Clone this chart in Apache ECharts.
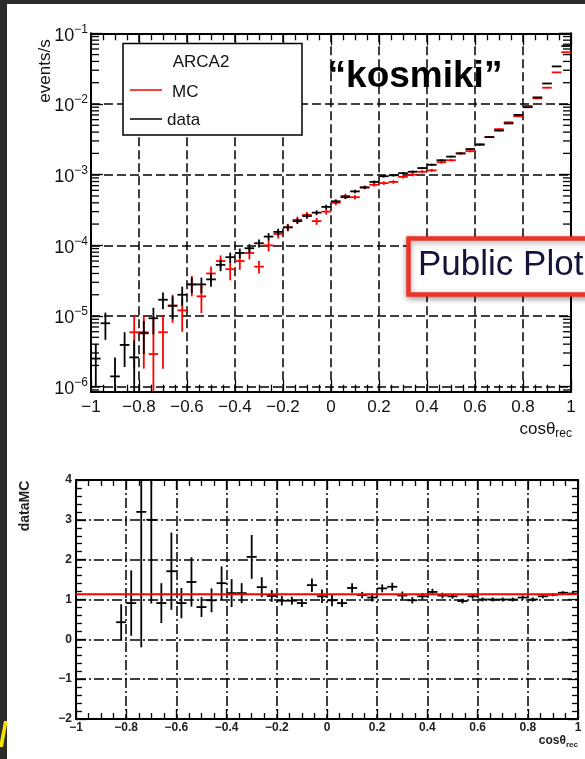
<!DOCTYPE html>
<html><head><meta charset="utf-8">
<script src="https://cdn.jsdelivr.net/npm/echarts@6/dist/echarts.min.js"></script>
<style>html,body{margin:0;padding:0;background:#fff}#c{width:585px;height:759px}</style>
</head><body><div id="c"></div>
<script>
// ---------------- data ----------------
const binCenters = [-0.98,-0.94,-0.90,-0.86,-0.82,-0.78,-0.74,-0.70,-0.66,-0.62,
  -0.58,-0.54,-0.50,-0.46,-0.42,-0.38,-0.34,-0.30,-0.26,-0.22,
  -0.18,-0.14,-0.10,-0.06,-0.02,0.02,0.06,0.10,0.14,0.18,
  0.22,0.26,0.30,0.34,0.38,0.42,0.46,0.50,0.54,0.58,
  0.62,0.66,0.70,0.74,0.78,0.82,0.86,0.90,0.94,0.98];
const binHalfWidth = 0.02;

const dataVal = [2.5e-6,7.9e-6,1.4e-6,3.9e-6,2.6e-6,5.7e-6,9.3e-6,1.7e-5,1.4e-5,2.0e-5,
  2.8e-5,2.8e-5,3.3e-5,5.3e-5,6.8e-5,7.8e-5,9.1e-5,1.07e-4,1.33e-4,1.55e-4,
  1.8e-4,2.2e-4,2.6e-4,2.9e-4,3.5e-4,4.2e-4,4.8e-4,5.8e-4,6.6e-4,7.9e-4,
  9.5e-4,9.8e-4,1.05e-3,1.1e-3,1.24e-3,1.38e-3,1.6e-3,1.8e-3,2.0e-3,2.3e-3,
  2.65e-3,3.4e-3,4.2e-3,5.3e-3,7.0e-3,9.0e-3,1.24e-2,1.95e-2,3.4e-2,6.6e-2];
const dataErr = [1.5e-6,3.3e-6,1.2e-6,2.0e-6,1.9e-6,2.8e-6,3.8e-6,4.5e-6,5e-6,6e-6,
  7e-6,7e-6,7e-6,1.0e-5,1.1e-5,1.2e-5,1.3e-5,1.4e-5,1.6e-5,1.7e-5,
  1.8e-5,2.0e-5,2.2e-5,2.3e-5,2.5e-5,2.7e-5,2.9e-5,3.2e-5,3.4e-5,3.7e-5,
  4.0e-5,4.0e-5,4.1e-5,4.2e-5,4.5e-5,4.7e-5,5.0e-5,5.3e-5,5.6e-5,6.0e-5,
  6.5e-5,7.3e-5,8.2e-5,9.2e-5,1.05e-4,1.2e-4,1.4e-4,1.7e-4,2.3e-4,3.2e-4];

const mcVal = [null,null,null,null,5.9e-6,5.9e-6,2.9e-6,5.9e-6,1.4e-5,1.2e-5,
  2.8e-5,1.9e-5,4.0e-5,6.0e-5,4.6e-5,6.0e-5,7.8e-5,5.0e-5,1.0e-4,1.45e-4,
  1.8e-4,2.3e-4,2.7e-4,2.2e-4,3.0e-4,4.0e-4,5.0e-4,4.8e-4,6.6e-4,7.2e-4,
  7.6e-4,7.9e-4,9.3e-4,1.0e-3,1.1e-3,1.15e-3,1.5e-3,1.6e-3,2.0e-3,2.15e-3,
  2.7e-3,3.4e-3,4.4e-3,5.5e-3,6.7e-3,9.4e-3,1.2e-2,1.7e-2,2.8e-2,5.4e-2];
const mcErr = [null,null,null,null,4.1e-6,4.1e-6,7e-6,4.1e-6,6e-6,6e-6,
  9e-6,8e-6,1.0e-5,1.2e-5,1.4e-5,1.5e-5,1.5e-5,1.0e-5,1.8e-5,2.0e-5,
  2.2e-5,2.5e-5,2.7e-5,2.5e-5,2.8e-5,3.2e-5,3.6e-5,3.5e-5,4.0e-5,4.2e-5,
  4.4e-5,4.5e-5,5.0e-5,5.2e-5,5.5e-5,5.6e-5,6.5e-5,6.8e-5,7.5e-5,8e-5,
  9e-5,1.0e-4,1.2e-4,1.3e-4,1.5e-4,1.8e-4,2.1e-4,2.6e-4,3.4e-4,5e-4];

const ratioVal = [null,null,null,null,0.43,0.91,3.2,3.0,0.91,1.71,
  0.91,1.44,0.81,0.98,1.41,1.16,1.16,2.07,1.31,1.09,
  0.97,0.97,0.91,1.36,1.08,0.98,0.91,1.29,1.11,1.05,
  1.28,1.32,1.10,0.98,1.08,1.19,1.10,1.08,0.96,1.08,
  1.00,1.00,1.00,1.00,1.05,1.00,1.08,1.12,1.17,1.15];
const ratioErr = [null,null,null,null,0.45,0.82,3.4,2.1,0.5,0.97,
  0.38,0.62,0.25,0.3,0.42,0.35,0.25,0.55,0.25,0.15,
  0.12,0.1,0.1,0.17,0.17,0.15,0.1,0.12,0.08,0.1,
  0.1,0.1,0.1,0.08,0.08,0.08,0.07,0.06,0.06,0.06,
  0.05,0.05,0.05,0.05,0.05,0.05,0.05,0.04,0.04,0.04];
const fitRatio = 1.13;

// tick labels
const xTickValues = [-1,-0.8,-0.6,-0.4,-0.2,0,0.2,0.4,0.6,0.8,1];
const xTickLabels = ['\u22121','\u22120.8','\u22120.6','\u22120.4','\u22120.2','0','0.2','0.4','0.6','0.8','1'];
const yLogTickValues = [1e-6,1e-5,1e-4,1e-3,1e-2,1e-1];
const yLogTickExps = ['\u22126','\u22125','\u22124','\u22123','\u22122','\u22121'];
const ratioTickValues = [-2,-1,0,1,2,3,4];
const ratioTickLabels = ['\u22122','\u22121','0','1','2','3','4'];

const yLogMin = 8.5e-7, yLogMax = 0.1;
// --------------------------------------

const FONT = '"Liberation Sans", Arial, Helvetica, sans-serif';
const TXT = '#111';

function lookup(vals, labels, v, isLog) {
  for (let i = 0; i < vals.length; i++) {
    const d = isLog ? Math.abs(Math.log10(v) - Math.log10(vals[i])) : Math.abs(v - vals[i]);
    if (d < 1e-6) return labels[i];
  }
  return '';
}

function pts(vals, errs) {
  const out = [];
  binCenters.forEach((x, i) => { if (vals[i] != null) out.push([x, vals[i], errs[i]]); });
  return out;
}

function crossRenderer(color, lw, isLog) {
  return function (params, api) {
    const cs = params.coordSys;
    const x = api.value(0), y = api.value(1), e = api.value(2);
    let bot = y - e;
    if (isLog && bot <= 0) bot = 1e-12;
    const clampY = v => Math.max(cs.y, Math.min(cs.y + cs.height, v));
    const pL = api.coord([x - binHalfWidth, y]);
    const pR = api.coord([x + binHalfWidth, y]);
    const pT = api.coord([x, y + e]);
    const pB = api.coord([x, bot]);
    const style = { stroke: color, lineWidth: lw };
    const ch = [];
    if (pL[1] >= cs.y && pL[1] <= cs.y + cs.height)
      ch.push({ type: 'line', shape: { x1: pL[0], y1: pL[1], x2: pR[0], y2: pR[1] }, style });
    const y1 = clampY(pT[1]), y2 = clampY(pB[1]);
    if (y2 > y1) ch.push({ type: 'line', shape: { x1: pT[0], y1: y1, x2: pT[0], y2: y2 }, style });
    return { type: 'group', children: ch };
  };
}

// minor log ticks (2..9 per decade)
const logMinorTicks = [];
for (let d = -7; d <= -2; d++) for (let m = 2; m <= 9; m++) {
  const v = m * Math.pow(10, d);
  if (v > yLogMin && v < yLogMax) logMinorTicks.push([0, v]);
}

const chart = echarts.init(document.getElementById('c'), null, { renderer: 'canvas' });

const frameLine = { show: true, onZero: false, lineStyle: { color: '#000', width: 2 } };
const dashGrid = { show: true, lineStyle: { color: '#000', width: 1.5, type: [9, 4] } };
const dashDotGrid = { show: true, lineStyle: { color: '#000', width: 1.5, type: [10, 3, 2, 3] } };

const option = {
  animation: false,
  backgroundColor: '#fff',
  grid: [
    { left: 91, top: 33.3, width: 480, height: 358.4, containLabel: false },
    { left: 76, top: 480, width: 502, height: 239, containLabel: false }
  ],
  xAxis: [
    { type: 'value', gridIndex: 0, min: -1, max: 1, interval: 0.2, position: 'bottom',
      axisLine: frameLine,
      axisTick: { show: true, inside: true, length: 12, lineStyle: { color: '#000', width: 1.3 } },
      minorTick: { show: true, splitNumber: 4, length: 7, lineStyle: { color: '#000', width: 1.3 } },
      splitLine: dashGrid,
      axisLabel: { fontSize: 17, color: TXT, fontFamily: FONT, margin: 7,
        formatter: v => lookup(xTickValues, xTickLabels, v, false) } },
    { type: 'value', gridIndex: 0, min: -1, max: 1, interval: 0.2, position: 'top',
      axisLine: frameLine,
      axisTick: { show: true, inside: true, length: 12, lineStyle: { color: '#000', width: 1.3 } },
      minorTick: { show: true, splitNumber: 4, length: 7, lineStyle: { color: '#000', width: 1.3 } },
      splitLine: { show: false }, axisLabel: { show: false } },
    { type: 'value', gridIndex: 1, min: -1, max: 1, interval: 0.2, position: 'bottom',
      axisLine: frameLine,
      axisTick: { show: true, inside: true, length: 10, lineStyle: { color: '#000', width: 1.3 } },
      minorTick: { show: true, splitNumber: 4, length: 6, lineStyle: { color: '#000', width: 1.3 } },
      splitLine: dashDotGrid,
      axisLabel: { fontSize: 12, fontWeight: 'bold', color: '#222', fontFamily: FONT, margin: 3,
        formatter: v => lookup(xTickValues, xTickLabels, v, false) } },
    { type: 'value', gridIndex: 1, min: -1, max: 1, interval: 0.2, position: 'top',
      axisLine: frameLine,
      axisTick: { show: true, inside: true, length: 10, lineStyle: { color: '#000', width: 1.3 } },
      minorTick: { show: true, splitNumber: 4, length: 6, lineStyle: { color: '#000', width: 1.3 } },
      splitLine: { show: false }, axisLabel: { show: false } }
  ],
  yAxis: [
    { type: 'log', logBase: 10, gridIndex: 0, min: yLogMin, max: yLogMax, position: 'left',
      axisLine: frameLine,
      axisTick: { show: true, inside: true, length: 12, lineStyle: { color: '#000', width: 1.3 } },
      minorTick: { show: false },
      splitLine: dashGrid,
      axisLabel: { margin: 3, color: TXT, fontFamily: FONT,
        formatter: v => { const e = lookup(yLogTickValues, yLogTickExps, v, true); return e ? '{b|10}{s|' + e + '}' : ''; },
        rich: {
          b: { fontSize: 18, color: TXT, fontFamily: FONT, padding: [5, 0, 0, 0] },
          s: { fontSize: 12, color: TXT, fontFamily: FONT, padding: [0, 0, 8, 0] }
        } } },
    { type: 'log', logBase: 10, gridIndex: 0, min: yLogMin, max: yLogMax, position: 'right',
      axisLine: frameLine,
      axisTick: { show: true, inside: true, length: 12, lineStyle: { color: '#000', width: 1.3 } },
      splitLine: { show: false }, axisLabel: { show: false } },
    { type: 'value', gridIndex: 1, min: -2, max: 4, interval: 1, position: 'left',
      axisLine: frameLine,
      axisTick: { show: true, inside: true, length: 10, lineStyle: { color: '#000', width: 1.3 } },
      minorTick: { show: true, splitNumber: 5, length: 6, lineStyle: { color: '#000', width: 1.3 } },
      splitLine: dashDotGrid,
      axisLabel: { fontSize: 12, fontWeight: 'bold', color: '#222', fontFamily: FONT, margin: 4,
        formatter: v => lookup(ratioTickValues, ratioTickLabels, v, false) } },
    { type: 'value', gridIndex: 1, min: -2, max: 4, interval: 1, position: 'right',
      axisLine: frameLine,
      axisTick: { show: true, inside: true, length: 10, lineStyle: { color: '#000', width: 1.3 } },
      minorTick: { show: true, splitNumber: 5, length: 6, lineStyle: { color: '#000', width: 1.3 } },
      splitLine: { show: false }, axisLabel: { show: false } }
  ],
  series: [
    { type: 'custom', name: 'logMinorTicks', xAxisIndex: 0, yAxisIndex: 0, silent: true, z: 3,
      data: logMinorTicks,
      renderItem: function (params, api) {
        const cs = params.coordSys;
        const y = api.coord([0, api.value(1)])[1];
        const st = { stroke: '#000', lineWidth: 1.3 };
        return { type: 'group', children: [
          { type: 'line', shape: { x1: cs.x, y1: y, x2: cs.x + 8, y2: y }, style: st },
          { type: 'line', shape: { x1: cs.x + cs.width - 8, y1: y, x2: cs.x + cs.width, y2: y }, style: st }
        ] };
      } },
    { type: 'custom', name: 'MC', xAxisIndex: 0, yAxisIndex: 0, z: 4,
      data: pts(mcVal, mcErr), renderItem: crossRenderer('#ff0000', 1.8, true) },
    { type: 'custom', name: 'data', xAxisIndex: 0, yAxisIndex: 0, z: 5,
      data: pts(dataVal, dataErr), renderItem: crossRenderer('#000000', 1.8, true) },
    { type: 'custom', name: 'data/MC', xAxisIndex: 2, yAxisIndex: 2, z: 4,
      data: pts(ratioVal, ratioErr), renderItem: crossRenderer('#000000', 1.8, false) },
    { type: 'line', name: 'fit', xAxisIndex: 2, yAxisIndex: 2, z: 6, symbol: 'none', silent: true,
      data: [[-1, fitRatio], [1, fitRatio]], lineStyle: { color: '#ff0000', width: 2 } }
  ],
  graphic: [
    // screen frame
    { type: 'rect', z: 200, shape: { x: 0, y: 0, width: 585, height: 4 }, style: { fill: '#2b2b2b' } },
    { type: 'rect', z: 200, shape: { x: 0, y: 0, width: 7, height: 759 }, style: { fill: '#2b2b2b' } },
    { type: 'polygon', z: 201, shape: { points: [[4, 721], [7.5, 721], [3, 747], [0, 747], [0, 742]] }, style: { fill: '#f5e400' } },
    // legend
    { type: 'rect', z: 100, shape: { x: 123, y: 43.5, width: 179, height: 91.5 }, style: { fill: '#fff', stroke: '#000', lineWidth: 1.5 } },
    { type: 'text', z: 101, x: 201, y: 62, style: { text: 'ARCA2', font: '17px ' + FONT, fill: TXT, align: 'center', verticalAlign: 'middle' } },
    { type: 'line', z: 101, shape: { x1: 130, y1: 90, x2: 162, y2: 90 }, style: { stroke: '#ff0000', lineWidth: 1.5 } },
    { type: 'text', z: 101, x: 172, y: 92, style: { text: 'MC', font: '17px ' + FONT, fill: TXT, align: 'left', verticalAlign: 'middle' } },
    { type: 'line', z: 101, shape: { x1: 130, y1: 119, x2: 162, y2: 119 }, style: { stroke: '#000', lineWidth: 1.5 } },
    { type: 'text', z: 101, x: 167, y: 120, style: { text: 'data', font: '17px ' + FONT, fill: TXT, align: 'left', verticalAlign: 'middle' } },
    // kosmiki
    { type: 'text', z: 100, x: 415, y: 77, style: { text: '\u201Ckosmiki\u201D', font: 'bold 37px ' + FONT, fill: '#000', align: 'center', verticalAlign: 'middle' } },
    // Public plot box
    { type: 'rect', z: 150, shape: { x: 408.5, y: 238.5, width: 200, height: 56 },
      style: { fill: '#fff', stroke: '#ec3326', lineWidth: 4.5, shadowBlur: 6, shadowColor: 'rgba(0,0,0,0.35)', shadowOffsetY: 2 } },
    { type: 'text', z: 151, x: 418, y: 265, style: { text: 'Public Plot', font: '35px ' + FONT, fill: '#14143a', align: 'left', verticalAlign: 'middle' } },
    // axis titles top
    { type: 'text', z: 100, x: 45, y: 71, rotation: Math.PI / 2,
      style: { text: 'events/s', font: '17px ' + FONT, fill: TXT, align: 'center', verticalAlign: 'middle' } },
    { type: 'text', z: 100, x: 572, y: 429,
      style: { text: '{a|cos\u03B8}{b|rec}', align: 'right', verticalAlign: 'middle',
        rich: { a: { fontSize: 17, fontFamily: FONT, fill: TXT, color: TXT },
                b: { fontSize: 12, fontFamily: FONT, fill: TXT, color: TXT, padding: [10, 0, 0, 0] } } } },
    // axis titles bottom
    { type: 'text', z: 100, x: 25.5, y: 506, rotation: Math.PI / 2,
      style: { text: 'dataMC', font: 'bold 14px ' + FONT, fill: '#222', align: 'center', verticalAlign: 'middle' } },
    { type: 'text', z: 100, x: 578, y: 741,
      style: { text: '{a|cos\u03B8}{b|rec}', align: 'right', verticalAlign: 'middle',
        rich: { a: { fontSize: 12, fontWeight: 'bold', fontFamily: FONT, fill: '#222', color: '#222' },
                b: { fontSize: 8, fontWeight: 'bold', fontFamily: FONT, fill: '#222', color: '#222', padding: [7, 0, 0, 0] } } } }
  ]
};
chart.setOption(option);
</script>
</body></html>
